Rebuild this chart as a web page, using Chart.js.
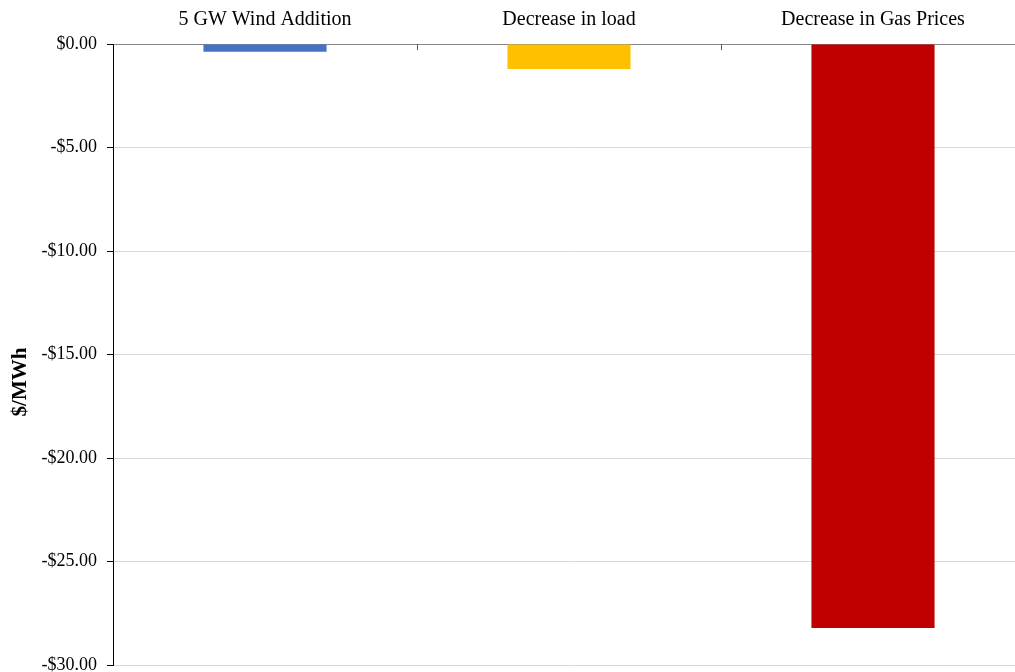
<!DOCTYPE html>
<html>
<head>
<meta charset="utf-8">
<script src="https://cdn.jsdelivr.net/npm/chart.js@4.4.0/dist/chart.umd.min.js"></script>
<style>
  html, body { margin: 0; padding: 0; background: #fff; overflow: hidden; }
  #wrap { width: 1025px; height: 672px; overflow: hidden; }
</style>
</head>
<body>
<div id="wrap"><canvas id="chart" width="1025" height="686"></canvas></div>
<script>
const categories = ["5 GW Wind Addition", "Decrease in load", "Decrease in Gas Prices"];
const priceChange = [-0.37, -1.21, -28.2];
const barColors = ["#4472C4", "#FFC000", "#C00000"];
const yTicks = [0, -5, -10, -15, -20, -25, -30];
const yTitle = "$/MWh";

const serif = "'Liberation Serif', 'Times New Roman', serif";

// y title drawn by hand so it can sit a bit below the middle, as in the original
const titlePlugin = {
  id: "sideTitle",
  afterDraw(chart) {
    const c = chart.ctx;
    c.save();
    c.translate(21, 382);
    c.rotate(-Math.PI / 2);
    c.font = "bold 21px " + serif;
    c.fillStyle = "#000";
    c.textAlign = "center";
    c.textBaseline = "middle";
    c.fillText(yTitle, 0, 0);
    c.restore();
  }
};

// short ticks hanging down from the top axis between categories
const innerTicks = {
  id: "innerTicks",
  afterDraw(chart) {
    const x = chart.scales.x;
    const c = chart.ctx;
    c.save();
    c.strokeStyle = "#595959";
    c.lineWidth = 1;
    for (let i = 1; i < categories.length; i++) {
      const px = Math.round((x.getPixelForValue(i - 1) + x.getPixelForValue(i)) / 2) + 0.5;
      c.beginPath();
      c.moveTo(px, x.bottom);
      c.lineTo(px, x.bottom + 6);
      c.stroke();
    }
    c.restore();
  }
};

new Chart(document.getElementById("chart"), {
  type: "bar",
  data: {
    labels: categories,
    datasets: [{
      data: priceChange,
      backgroundColor: barColors,
      barPercentage: 0.405,
      categoryPercentage: 1.0
    }]
  },
  options: {
    responsive: false,
    animation: false,
    layout: { padding: { left: 0, right: 0, top: 0, bottom: -6 } },
    plugins: { legend: { display: false }, tooltip: { enabled: false } },
    scales: {
      x: {
        position: "top",
        grid: { display: false },
        border: { display: true, color: "#868686", width: 1 },
        ticks: { color: "#000", font: { family: serif, size: 20 }, padding: 4 },
        afterFit(s) { s.height = 44; }
      },
      y: {
        min: -30,
        max: 0,
        afterBuildTicks(s) { s.ticks = yTicks.map(v => ({ value: v })); },
        grid: { color: "#d9d9d9", tickColor: "#000", tickLength: 6 },
        border: { display: true, color: "#000", width: 1 },
        ticks: {
          color: "#000",
          font: { family: serif, size: 18 },
          padding: 10,
          callback: v => (v < 0 ? "-$" : "$") + Math.abs(v).toFixed(2)
        },
        afterFit(s) { s.width = 113; }
      }
    }
  },
  plugins: [titlePlugin, innerTicks]
});
</script>
</body>
</html>
